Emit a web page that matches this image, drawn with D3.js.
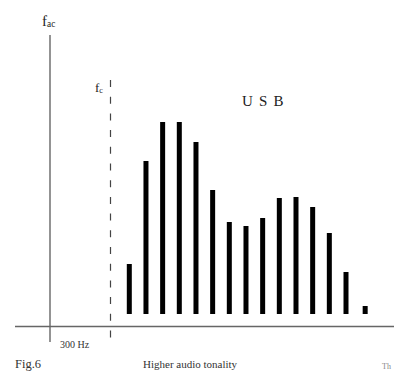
<!DOCTYPE html>
<html>
<head>
<meta charset="utf-8">
<script src="https://cdn.jsdelivr.net/npm/d3@7"></script>
<style>
  html, body { margin: 0; padding: 0; background: #fff; }
  svg { display: block; }
</style>
</head>
<body>
<svg id="chart" width="394" height="372"></svg>
<script>
// Data: audio tones (position index) and their amplitudes
const tones = [1, 2, 3, 4, 5, 6, 7, 8, 9, 10, 11, 12, 13, 14, 15.15];
const amplitudes = [50, 153, 192, 192, 172, 124, 92, 88, 96, 116, 117, 107, 81, 42, 8];
const labels = { yAxis: "f", yAxisSub: "ac", carrier: "f", carrierSub: "c", band: "U S B",
                 xTick: "300 Hz", xTitle: "Higher audio tonality", fig: "Fig.6", edge: "Th" };

const svg = d3.select("#chart");
const serif = "'Liberation Serif', 'DejaVu Serif', serif";

const x = d3.scaleLinear().domain([1, 14]).range([129.3, 346]);
const y = d3.scaleLinear().domain([0, 200]).range([314, 114]);

const axisColor = "#666";
// horizontal axis
svg.append("line").attr("x1", 15).attr("x2", 394).attr("y1", 326.5).attr("y2", 326.5)
  .attr("stroke", axisColor).attr("stroke-width", 1.4);
// vertical axis (fac)
svg.append("line").attr("x1", 50).attr("x2", 50).attr("y1", 35).attr("y2", 342)
  .attr("stroke", axisColor).attr("stroke-width", 1.4);
// carrier dashed line
svg.append("line").attr("x1", 110.5).attr("x2", 110.5).attr("y1", 80).attr("y2", 342)
  .attr("stroke", "#444").attr("stroke-width", 1.2).attr("stroke-dasharray", "7,9.7");

// bars
svg.append("g").selectAll("rect").data(tones).join("rect")
  .attr("x", (d) => x(d) - 2.5)
  .attr("width", 5)
  .attr("y", (d, i) => y(amplitudes[i]))
  .attr("height", (d, i) => y(0) - y(amplitudes[i]))
  .attr("fill", "#000");

function subText(xPos, yPos, main, sub, size) {
  const t = svg.append("text").attr("x", xPos).attr("y", yPos)
    .attr("font-family", serif).attr("font-size", size).attr("fill", "#222");
  t.append("tspan").text(main);
  t.append("tspan").attr("font-size", size * 0.62).attr("dy", 1).text(sub);
}
subText(42, 26, labels.yAxis, labels.yAxisSub, 15);
subText(95, 92, labels.carrier, labels.carrierSub, 13);

svg.append("text").attr("x", 242).attr("y", 106)
  .attr("font-family", serif).attr("font-size", 15).attr("fill", "#222")
  .attr("letter-spacing", 1.2).text(labels.band);

svg.append("text").attr("x", 60).attr("y", 348)
  .attr("font-family", serif).attr("font-size", 10).attr("fill", "#333").text(labels.xTick);

svg.append("text").attr("x", 143).attr("y", 368)
  .attr("font-family", serif).attr("font-size", 11).attr("fill", "#333").text(labels.xTitle);

svg.append("text").attr("x", 15).attr("y", 368)
  .attr("font-family", serif).attr("font-size", 12.5).attr("fill", "#333").text(labels.fig);

svg.append("text").attr("x", 382).attr("y", 369)
  .attr("font-family", serif).attr("font-size", 8).attr("fill", "#888").text(labels.edge);
</script>
</body>
</html>
